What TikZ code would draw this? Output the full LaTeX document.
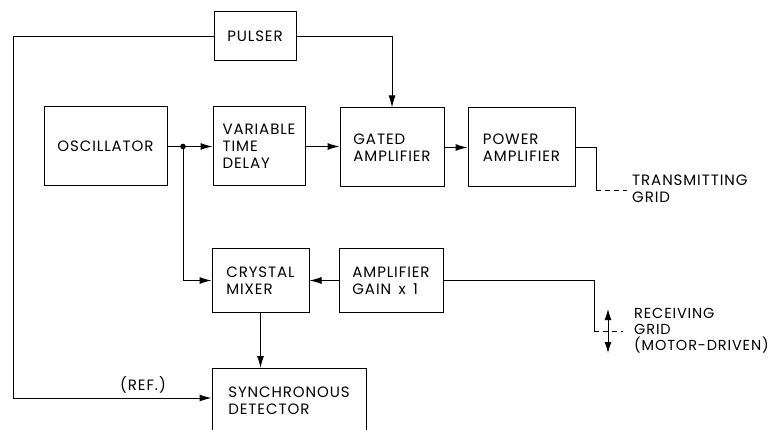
\documentclass[tikz,border=0pt]{standalone}
\usepackage{fontspec}
\setmainfont{Poppins}[LetterSpace=6]
\usetikzlibrary{arrows.meta}
\begin{document}
\begin{tikzpicture}[x=1pt,y=-1pt,
  font=\fontsize{15}{17}\selectfont,
  box/.style={draw, line width=1pt, align=left, inner sep=0pt},
  conn/.style={line width=1pt},
  arr/.style={conn, -{Latex[length=12pt,width=7pt]}},
  darr/.style={conn, {Latex[length=11pt,width=7pt]}-{Latex[length=11pt,width=7pt]}},
  dash line/.style={conn, dash pattern=on 5pt off 4pt},
  lbl/.style={align=left, inner sep=0pt, anchor=west}]
\useasboundingbox (0,0) rectangle (773,430);

% boxes
\node[box, minimum width=82pt, minimum height=49pt] (pulser) at (255,36.5) {PULSER};
\node[box, minimum width=123pt, minimum height=79pt] (osc) at (105.5,146.5) {OSCILLATOR};
\node[box, minimum width=92pt, minimum height=79pt] (vtd) at (259,146.5) {VARIABLE\\TIME\\DELAY};
\node[box, minimum width=104pt, minimum height=79pt] (gated) at (392,147.5) {GATED\\AMPLIFIER};
\node[box, minimum width=107pt, minimum height=79pt] (power) at (521.5,147.5) {POWER\\AMPLIFIER};
\node[box, minimum width=97pt, minimum height=63pt] (mixer) at (260.5,280.5) {CRYSTAL\\MIXER};
\node[box, minimum width=104pt, minimum height=63pt] (ampgain) at (391,280.5) {AMPLIFIER\\GAIN\, x\, 1};
\node[box, minimum width=154pt, minimum height=64pt, anchor=north] (sync) at (289,368) {SYNCHRONOUS\\DETECTOR};

% coordinates
\coordinate (j) at (183,146.5);
\coordinate (refc) at (13,398);
\coordinate (tg1) at (596,147.5);
\coordinate (tg2) at (596,191);
\coordinate (tgE) at (627,191);
\coordinate (rg1) at (594,280.5);
\coordinate (rg2) at (594,331);
\coordinate (rgE) at (623,331);
\coordinate (ra1) at (608,309);
\coordinate (ra2) at (608,353);

% connectors
\draw[conn] (osc.east) -- (j);
\draw[arr] (j) -- (vtd.west);
\fill (j) circle (2.8pt);
\draw[arr] (vtd.east) -- (vtd.east -| gated.west);
\draw[arr] (gated.east) -- (gated.east -| power.west);
\draw[arr] (pulser.east) -| (gated.north);
\draw[arr] (pulser.west) -- (pulser.west -| refc) -- (refc) -- (refc -| sync.west);
\draw[arr] (j) |- (mixer.west);
\draw[arr] (ampgain.west) -- (mixer.east);
\draw[arr] (mixer.south) -- (mixer.south |- sync.north);
\draw[conn] (power.east) -- (tg1) -- (tg2);
\draw[dash line] (tg2) -- (tgE);
\draw[conn] (ampgain.east) -- (rg1) -- (rg2);
\draw[dash line] (rg2) -- (rgE);
\draw[darr] (ra1) -- (ra2);

% labels
\node[lbl] (tlabel) at (632,188.5) {TRANSMITTING\\GRID};
\node[lbl, font=\fontsize{14.5}{16}\selectfont] (rlabel) at (634,331) {RECEIVING\\GRID\\(MOTOR-DRIVEN)};
\node[inner sep=0pt] (ref) at (143,385) {(REF.)};
\end{tikzpicture}
\end{document}
